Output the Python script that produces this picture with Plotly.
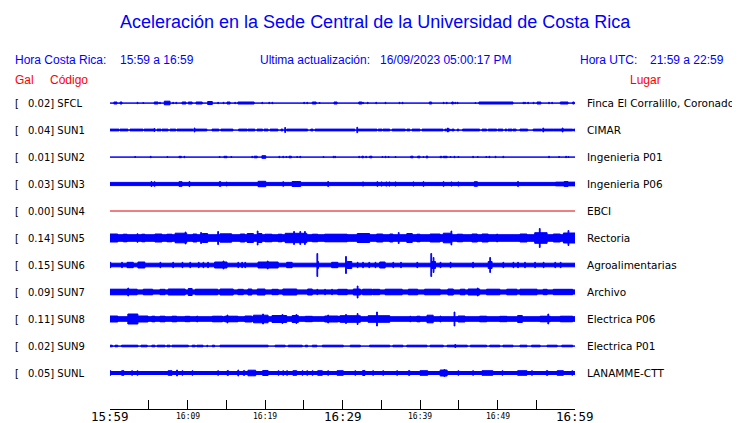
import plotly.graph_objects as go

# ---------------- data ----------------
stations = ["SFCL", "SUN1", "SUN2", "SUN3", "SUN4", "SUN5", "SUN6", "SUN7", "SUN8", "SUN9", "SUNL"]
gal_values = ["0.02", "0.04", "0.01", "0.03", "0.00", "0.14", "0.15", "0.09", "0.11", "0.02", "0.05"]
places = ["Finca El Corralillo, Coronado", "CIMAR", "Ingenieria P01", "Ingenieria P06", "EBCI",
          "Rectoria", "Agroalimentarias", "Archivo", "Electrica P06", "Electrica P01", "LANAMME-CTT"]

# background (noise) amplitude of each trace
base_amp = [0.6, 0.6, 0.6, 2.1, 0.0, 3.8, 2.3, 2.6, 2.8, 0.6, 2.0]

# bursts: [start minute, end minute, amplitude]   (minutes after 15:59)
bursts_SFCL = [[0.5, 0.9, 1.5], [1.3, 1.55, 1.5], [3.5, 3.6, 1.2], [4.25, 4.35, 1.0], [5.7, 6.2, 1.5],
               [6.4, 6.5, 1.2], [7.0, 7.75, 2.3], [8.1, 8.2, 1.2], [8.5, 8.6, 1.2], [9.3, 9.8, 1.5],
               [10.1, 10.6, 1.5], [11.1, 11.9, 1.5], [12.6, 13.2, 2.0], [13.9, 14.0, 1.2], [14.6, 14.7, 1.2],
               [15.1, 15.5, 1.5], [16.1, 16.2, 1.2], [16.5, 18.6, 1.5], [19.6, 19.7, 1.2], [20.5, 20.6, 1.2],
               [20.9, 21.0, 1.2], [25.0, 25.1, 1.2], [25.4, 25.5, 1.2], [26.1, 26.6, 1.5], [27.0, 27.1, 1.0],
               [28.9, 29.3, 1.5], [32.1, 32.5, 1.5], [32.6, 32.7, 1.2], [33.2, 33.3, 1.2], [34.3, 34.4, 1.2],
               [35.5, 35.6, 1.2], [37.3, 37.4, 1.2], [37.7, 37.8, 1.2], [41.2, 41.5, 1.5], [43.0, 43.1, 1.2],
               [43.4, 43.5, 1.2], [44.1, 44.3, 1.5], [44.5, 44.6, 1.2], [44.8, 44.9, 1.2], [47.1, 47.2, 1.0],
               [47.6, 52.0, 1.5], [53.3, 53.4, 1.2], [53.5, 53.6, 1.2], [53.9, 54.0, 1.2], [54.6, 54.7, 1.2],
               [55.1, 55.6, 1.5], [56.6, 56.7, 1.2], [57.0, 57.1, 1.2], [58.1, 59.1, 1.5], [59.7, 59.9, 1.5]]

bursts_SUN1 = [[0.0, 1.16, 1.4], [1.29, 2.32, 1.4], [2.58, 4.26, 1.4], [4.39, 5.8, 1.4], [5.7, 5.8, 2.0],
               [6.06, 6.58, 1.4], [6.7, 7.5, 1.4], [7.74, 8.5, 1.4], [8.64, 10.7, 1.4], [10.85, 10.95, 2.5],
               [10.97, 12.5, 1.4], [13.16, 14.06, 1.4], [14.3, 15.87, 1.4], [16.6, 17.7, 1.4], [17.8, 18.7, 1.4],
               [18.97, 19.7, 1.4], [19.87, 20.4, 1.4], [20.65, 21.67, 1.4], [22.06, 22.3, 1.4], [22.55, 22.65, 3.0],
               [22.8, 25.5, 1.4], [25.9, 26.2, 1.4], [26.45, 31.6, 1.4], [31.85, 31.95, 3.2], [32.0, 34.45, 1.4],
               [34.6, 35.1, 1.4], [35.2, 36.1, 1.4], [36.4, 38.1, 1.4], [38.3, 38.7, 1.4], [38.97, 40.0, 1.4],
               [40.26, 42.97, 1.4], [43.2, 43.9, 1.4], [43.55, 43.65, 2.5], [44.1, 44.4, 1.4], [44.8, 45.0, 1.4],
               [45.5, 47.7, 1.4], [48.0, 48.6, 1.4], [48.8, 49.9, 1.4], [50.06, 50.7, 1.4], [50.97, 51.2, 1.4],
               [51.35, 51.9, 1.4], [52.0, 52.4, 1.4], [52.9, 53.9, 1.4], [54.6, 55.7, 1.4], [55.85, 55.95, 2.5],
               [55.9, 57.2, 1.4], [57.2, 59.7, 1.4], [58.35, 58.45, 2.5], [59.8, 60.0, 1.4]]

bursts_SUN2 = [[3.2, 3.3, 1.0], [5.2, 5.3, 1.2], [7.35, 7.45, 1.0], [8.9, 9.2, 1.2], [9.55, 9.65, 1.2],
               [14.1, 14.2, 1.0], [14.7, 15.1, 1.2], [15.6, 15.7, 1.0], [18.3, 18.4, 1.2], [18.6, 19.0, 1.3],
               [19.6, 20.1, 1.8], [21.8, 21.9, 1.2], [22.3, 22.4, 1.2], [22.7, 22.8, 1.0], [23.1, 23.4, 1.3],
               [24.1, 24.2, 1.0], [24.5, 24.6, 1.2], [27.5, 27.6, 1.0], [28.8, 28.9, 1.2], [29.0, 29.1, 1.2],
               [32.1, 32.2, 1.2], [32.5, 32.7, 1.3], [33.0, 33.1, 1.2], [33.5, 33.8, 1.3], [35.1, 35.2, 1.0],
               [35.5, 35.6, 1.2], [35.9, 36.0, 1.0], [36.8, 36.9, 1.0], [38.8, 39.1, 1.3], [39.7, 40.0, 1.3],
               [40.4, 40.5, 1.0], [40.8, 41.0, 1.4], [42.6, 42.8, 1.2], [43.0, 43.5, 1.2], [43.9, 44.0, 1.0],
               [44.4, 44.5, 1.2], [44.9, 45.0, 1.0], [46.8, 46.9, 1.2], [47.4, 47.5, 1.0], [48.5, 48.6, 1.0],
               [48.9, 49.0, 1.2], [49.7, 49.8, 1.2], [50.7, 50.8, 1.2], [56.6, 56.7, 1.2], [57.9, 58.0, 1.0],
               [58.8, 58.9, 1.2], [59.1, 59.2, 1.0]]

bursts_SUN3 = [[5.3, 5.4, 3.0], [5.7, 5.8, 2.8], [8.9, 9.3, 2.8], [10.2, 10.3, 3.0], [14.1, 14.3, 2.8],
               [15.0, 15.1, 2.5], [19.1, 20.1, 3.2], [22.3, 22.4, 2.8], [23.5, 24.6, 3.0], [28.1, 28.2, 3.0],
               [32.6, 32.7, 2.6], [34.45, 34.55, 2.8], [35.0, 35.1, 2.6], [35.6, 35.7, 2.6], [36.0, 36.1, 2.6],
               [36.8, 36.9, 2.6], [39.1, 39.2, 2.6], [40.4, 40.5, 2.8], [43.0, 43.1, 2.8], [44.0, 44.1, 2.6],
               [44.9, 45.0, 2.6], [47.0, 47.4, 2.8], [52.6, 52.7, 3.0], [57.5, 60.0, 2.3], [58.6, 59.1, 2.9]]

bursts_SUN4 = []

bursts_SUN5 = [[0.0, 1.0, 4.5], [1.7, 2.2, 4.3], [3.5, 3.6, 4.8], [4.1, 4.5, 4.3], [5.8, 6.7, 4.5],
               [7.35, 8.0, 4.3], [8.4, 9.9, 5.3], [9.7, 9.8, 6.5], [10.7, 11.2, 4.5], [11.7, 11.8, 6.0],
               [11.9, 12.6, 5.0], [13.9, 14.0, 7.0], [14.2, 15.7, 4.7], [16.8, 17.4, 4.5], [17.7, 18.5, 5.0],
               [19.0, 19.1, 7.5], [19.1, 19.6, 5.0], [20.0, 20.9, 4.3], [21.7, 22.2, 4.3], [22.6, 25.4, 5.2],
               [23.7, 23.8, 7.0], [24.5, 24.6, 7.0], [25.1, 25.2, 7.0], [26.1, 26.8, 4.3], [27.7, 30.6, 4.3],
               [31.9, 33.5, 5.0], [34.4, 35.2, 4.5], [36.1, 36.5, 4.5], [37.2, 37.3, 6.0], [38.3, 39.0, 5.0],
               [39.6, 40.0, 4.3], [41.3, 42.6, 4.5], [43.0, 44.1, 5.3], [44.0, 44.1, 7.5], [44.8, 45.5, 4.3],
               [46.7, 47.4, 4.5], [48.0, 48.8, 4.5], [49.9, 50.0, 4.5], [52.9, 53.8, 4.5], [54.8, 56.4, 5.8],
               [55.4, 55.5, 10.0], [57.2, 58.1, 4.5], [58.5, 60.0, 5.5], [59.1, 59.2, 8.0]]

bursts_SUN6 = [[0.0, 0.1, 3.2], [1.5, 1.6, 3.2], [2.2, 3.0, 3.2], [3.6, 4.5, 3.5], [6.45, 6.55, 3.2],
               [8.1, 8.2, 3.2], [9.3, 9.4, 3.2], [10.3, 10.4, 3.2], [11.4, 11.5, 3.2], [12.0, 12.1, 3.2],
               [12.6, 12.7, 3.2], [13.5, 15.1, 3.5], [14.6, 14.7, 4.5], [16.5, 16.6, 3.2], [17.0, 17.1, 3.2],
               [17.4, 17.5, 3.2], [19.1, 21.7, 3.5], [20.3, 20.4, 4.5], [22.8, 23.5, 3.2], [26.7, 26.8, 12.0],
               [26.8, 26.9, 4.0], [28.6, 29.4, 3.2], [30.4, 30.5, 9.0], [30.6, 31.2, 4.0], [31.9, 32.0, 3.2],
               [32.6, 32.7, 3.2], [33.4, 33.5, 3.2], [34.2, 34.3, 3.2], [34.8, 35.5, 3.5], [36.5, 36.6, 3.2],
               [37.5, 37.6, 3.2], [39.6, 39.7, 3.2], [41.4, 41.5, 12.0], [41.7, 41.8, 8.0], [41.5, 42.0, 4.0],
               [42.6, 42.7, 3.2], [43.9, 44.0, 3.2], [46.8, 46.9, 3.2], [48.8, 49.3, 4.0], [49.0, 49.1, 8.0],
               [50.7, 50.8, 3.2], [52.0, 52.1, 3.2], [52.6, 52.7, 3.2], [53.5, 53.6, 3.2], [54.8, 54.9, 3.2],
               [55.9, 56.0, 3.2], [57.4, 57.5, 3.2], [58.1, 58.2, 3.2]]

bursts_SUN7 = [[0.0, 3.5, 3.3], [2.3, 2.4, 4.5], [4.3, 5.5, 3.3], [6.45, 7.1, 3.2], [7.5, 9.7, 3.5],
               [10.1, 10.6, 4.0], [11.0, 13.9, 3.3], [14.2, 15.9, 3.5], [16.5, 17.2, 3.2], [17.8, 18.3, 3.5],
               [19.0, 20.0, 3.5], [20.9, 21.7, 3.2], [22.3, 24.1, 3.5], [25.5, 26.1, 3.5], [26.7, 26.8, 3.2],
               [27.7, 27.8, 3.2], [28.6, 28.7, 3.2], [29.4, 30.6, 3.2], [31.4, 32.3, 3.5], [31.9, 32.0, 6.5],
               [32.6, 33.8, 3.3], [33.9, 34.8, 3.2], [35.5, 37.7, 3.3], [38.5, 39.7, 3.3], [40.6, 42.6, 3.3],
               [43.6, 44.3, 3.5], [45.2, 45.8, 3.3], [46.2, 47.7, 3.5], [47.4, 47.5, 4.5], [48.6, 50.3, 3.3],
               [51.2, 52.5, 3.3], [52.9, 55.1, 3.3], [55.9, 56.4, 3.2], [57.2, 59.7, 3.2]]

bursts_SUN8 = [[0.0, 1.0, 3.5], [2.3, 3.6, 5.5], [3.6, 4.9, 3.5], [5.4, 5.8, 3.3], [6.45, 7.1, 3.3],
               [8.0, 8.6, 3.3], [9.7, 10.3, 3.2], [11.2, 11.3, 3.5], [13.2, 14.5, 3.3], [15.1, 15.2, 4.5],
               [14.8, 16.5, 3.3], [17.4, 18.3, 3.5], [18.5, 20.4, 4.3], [19.7, 19.8, 5.5], [20.9, 22.8, 4.0],
               [22.2, 22.3, 5.0], [23.5, 24.3, 4.0], [24.0, 24.1, 5.0], [25.2, 26.1, 3.2], [27.7, 29.4, 3.5],
               [28.1, 28.2, 4.5], [29.4, 30.3, 3.2], [29.7, 32.3, 3.8], [30.4, 30.5, 5.0], [31.9, 32.0, 6.0],
               [33.3, 36.1, 3.8], [34.4, 34.5, 7.5], [38.7, 38.8, 3.3], [39.6, 40.0, 3.3], [40.9, 41.7, 4.3],
               [42.6, 42.7, 3.5], [44.4, 44.5, 7.5], [44.9, 45.8, 3.5], [47.7, 48.6, 3.3], [50.3, 51.2, 3.2],
               [52.6, 53.2, 4.0], [55.5, 56.8, 3.3], [56.5, 56.6, 5.5], [58.1, 59.7, 3.3]]

bursts_SUN9 = [[0.0, 0.3, 1.3], [0.65, 1.0, 1.3], [1.5, 3.6, 1.3], [4.0, 4.8, 1.3], [5.4, 5.8, 1.3],
               [6.1, 7.1, 1.3], [7.35, 7.75, 1.3], [8.0, 10.1, 1.3], [10.6, 11.0, 1.3], [11.2, 12.0, 1.3],
               [12.5, 12.6, 1.3], [13.2, 13.5, 1.3], [14.2, 20.4, 1.3], [21.3, 22.6, 1.3], [23.0, 24.8, 1.3],
               [25.2, 25.5, 1.3], [26.1, 26.7, 1.3], [27.4, 30.1, 1.3], [31.0, 32.3, 1.3], [33.5, 36.1, 1.3],
               [36.5, 37.8, 1.3], [38.3, 40.9, 1.3], [41.3, 43.0, 1.3], [43.5, 46.1, 1.3], [44.5, 44.6, 2.0],
               [46.5, 48.6, 1.3], [49.0, 50.3, 1.3], [50.7, 52.0, 1.3], [52.9, 53.8, 1.3], [54.4, 55.5, 1.3],
               [56.4, 57.7, 1.3], [58.3, 59.7, 1.3]]

bursts_SUNL = [[0.0, 0.1, 2.8], [1.5, 1.8, 2.8], [2.8, 2.9, 2.8], [3.5, 3.6, 2.8], [7.5, 8.0, 2.8],
               [8.6, 8.7, 3.5], [9.3, 9.4, 2.8], [10.6, 10.7, 2.8], [13.9, 14.0, 2.8], [15.1, 15.3, 2.8],
               [16.5, 16.6, 3.5], [17.2, 17.4, 2.8], [17.8, 18.8, 3.3], [19.7, 20.4, 3.0], [21.7, 21.8, 2.8],
               [22.3, 22.4, 2.8], [22.8, 22.9, 2.8], [23.6, 24.1, 2.8], [24.8, 24.9, 2.8], [25.4, 25.5, 2.8],
               [26.1, 26.2, 2.8], [26.8, 27.4, 2.8], [28.1, 28.2, 2.8], [29.3, 30.1, 2.8], [31.6, 31.7, 2.8],
               [32.6, 32.9, 3.0], [33.9, 34.0, 2.8], [35.2, 35.3, 2.8], [37.0, 37.1, 2.8], [38.5, 38.7, 2.8],
               [40.0, 41.0, 2.8], [42.6, 43.5, 3.5], [43.1, 43.2, 4.0], [44.9, 45.0, 2.8], [46.8, 46.9, 2.8],
               [48.0, 49.4, 2.8], [50.6, 50.7, 2.8], [52.6, 53.8, 2.8], [54.4, 54.5, 2.8], [56.3, 56.5, 2.8],
               [57.7, 58.5, 2.8], [59.6, 59.7, 2.8]]

bursts = [bursts_SFCL, bursts_SUN1, bursts_SUN2, bursts_SUN3, bursts_SUN4, bursts_SUN5,
          bursts_SUN6, bursts_SUN7, bursts_SUN8, bursts_SUN9, bursts_SUNL]

tick_minutes = [0, 5, 10, 15, 20, 25, 30, 35, 40, 45, 50, 55, 60]
tick_labels = {0: "15:59", 10: "16:09", 20: "16:19", 30: "16:29", 40: "16:39", 50: "16:49", 60: "16:59"}
major_labels = [0, 30, 60]

# ---------------- layout geometry ----------------
OFF = 8                         # page body margin
W, H = 740 - OFF, 423 - OFF
L, R, T, B = 110, 575, 90, 409  # plot area in window pixels
ROW0, ROWSTEP = 103, 27
PX = 1.0 / ROWSTEP              # amplitude (px) -> row units
PAD = 2                         # annotation inner padding
BLUE = "#0000ff"
RED = "#ff0000"

y_top = (ROW0 - T) / ROWSTEP
y_bot = -(B - ROW0) / ROWSTEP


def px_x(x):
    return (x - L) / (R - L)


def px_y(y):
    return (B - y) / (B - T)


fig = go.Figure()

for i, st in enumerate(stations):
    c = -i
    if st == "SUN4":
        fig.add_trace(go.Scatter(x=[0, 60], y=[c, c], mode="lines",
                                 line=dict(color="#dd0000", width=1), hoverinfo="skip",
                                 showlegend=False))
        continue
    xs, ys = [], []
    segs = [[0, 60, base_amp[i]]] + bursts[i]
    for t0, t1, a in segs:
        a = max(a - 0.5, 0.05) * PX
        xs += [t0, t1, t1, t0, t0, None]
        ys += [c - a, c - a, c + a, c + a, c - a, None]
    fig.add_trace(go.Scatter(x=xs, y=ys, mode="lines", fill="toself",
                             fillcolor=BLUE, line=dict(color=BLUE, width=1),
                             hoverinfo="skip", showlegend=False, connectgaps=False))

ann = []


def add_text(x, y, text, size, color="black", family="DejaVu Sans", anchor="left"):
    if anchor == "left":
        x -= PAD
    ann.append(dict(x=px_x(x), y=px_y(y), xref="paper", yref="paper", text=text,
                    showarrow=False, xanchor=anchor, yanchor="middle",
                    font=dict(size=size, color=color, family=family)))


# title and header
add_text(375, 22, "Aceleración en la Sede Central de la Universidad de Costa Rica", 18, BLUE,
         "Liberation Sans", "center")
add_text(15, 60, "Hora Costa Rica:", 12, BLUE, "Liberation Sans")
add_text(120, 60, "15:59 a 16:59", 12, BLUE, "Liberation Sans")
add_text(260, 60, "Ultima actualización:", 12, BLUE, "Liberation Sans")
add_text(380, 60, "16/09/2023 05:00:17 PM", 12, BLUE, "Liberation Sans")
add_text(580, 60, "Hora UTC:", 12, BLUE, "Liberation Sans")
add_text(650, 60, "21:59 a 22:59", 12, BLUE, "Liberation Sans")
add_text(15, 80, "Gal", 12, RED, "Liberation Sans")
add_text(50, 80, "Código", 12, RED, "Liberation Sans")
add_text(630, 80, "Lugar", 12, RED, "Liberation Sans")

for i, st in enumerate(stations):
    yc = ROW0 + ROWSTEP * i
    add_text(15, yc, "[", 10)
    add_text(28, yc, f"{gal_values[i]}] {st}", 10)
    add_text(587, yc, places[i], 10.5)

for m, lab in tick_labels.items():
    big = m in major_labels
    add_text(L + (R - L) * m / 60, 416.5, lab, 12.5 if big else 8, "black", "DejaVu Sans Mono", "center")

fig.update_layout(
    width=W, height=H,
    margin=dict(l=L - OFF, r=740 - R, t=T - OFF, b=423 - B, pad=0),
    paper_bgcolor="white", plot_bgcolor="white",
    annotations=ann,
    showlegend=False,
    xaxis=dict(range=[0, 60], showgrid=False, zeroline=False, showline=True,
               linecolor="black", linewidth=1, ticks="inside", ticklen=9, tickcolor="black",
               tickwidth=1, tickvals=tick_minutes, showticklabels=False, fixedrange=True),
    yaxis=dict(range=[y_bot, y_top], showgrid=False, zeroline=False, showline=False,
               showticklabels=False, ticks="", fixedrange=True),
)

fig.write_html("out.html")
